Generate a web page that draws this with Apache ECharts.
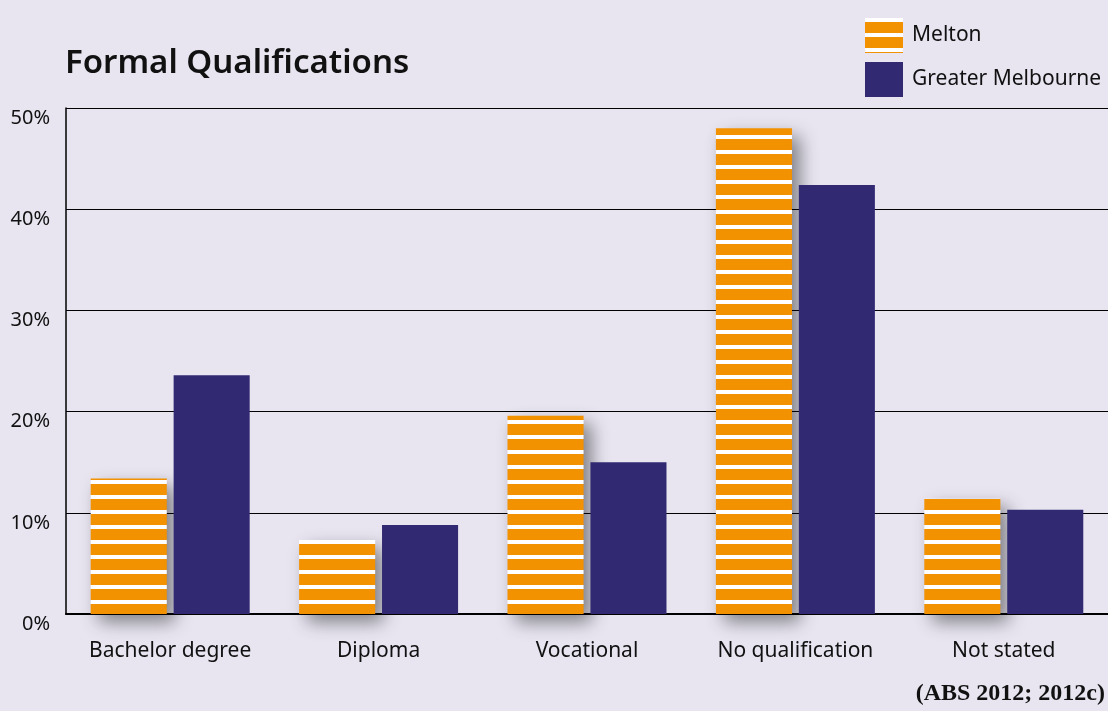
<!DOCTYPE html>
<html lang="en">
<head>
    <meta charset="UTF-8">
    <title>Formal Qualifications</title>
    <style>
        body { margin: 0; background: #e8e5f1; }
        #chart { width: 1108px; height: 711px; }
    </style>
</head>
<body>
    <div id="chart"></div>
    <script src="https://cdn.jsdelivr.net/npm/echarts@6/dist/echarts.min.js"></script>
    <script>
        const categories = ['Bachelor degree', 'Diploma', 'Vocational', 'No qualification', 'Not stated'];
        const melton = [13.4, 7.3, 19.6, 48.0, 11.4];
        const greaterMelbourne = [23.6, 8.8, 15.0, 42.4, 10.3];
        const yTicks = [0, 10, 20, 30, 40, 50];

        // orange with white horizontal stripes
        function stripes () {
            const c = document.createElement('canvas');
            c.width = 8;
            c.height = 15;
            const ctx = c.getContext('2d');
            ctx.fillStyle = '#ffffff';
            ctx.fillRect(0, 0, 8, 4);
            ctx.fillStyle = '#f39200';
            ctx.fillRect(0, 4, 8, 11);
            return c;
        }

        const chart = echarts.init(document.getElementById('chart'));
        const font = 'Noto Sans';

        chart.setOption({
            backgroundColor: '#e8e5f1',
            animation: false,
            title: {
                text: 'Formal Qualifications',
                left: 60,
                top: 42,
                textStyle: { fontFamily: font, fontSize: 33, fontWeight: 600, color: '#111' }
            },
            legend: {
                orient: 'vertical',
                left: 860,
                top: 13,
                icon: 'rect',
                itemWidth: 38,
                itemHeight: 35,
                itemGap: 9,
                textStyle: { fontFamily: font, fontSize: 21, color: '#111', padding: [0, 0, 0, 4] }
            },
            graphic: [{
                type: 'text',
                right: 3,
                top: 682,
                style: {
                    text: '(ABS 2012; 2012c)',
                    font: 'bold 24px "Liberation Serif", serif',
                    fill: '#111'
                }
            }],
            grid: { left: 66, right: 0, top: 108, bottom: 97 },
            xAxis: {
                type: 'category',
                data: categories,
                axisTick: { show: false },
                axisLine: { lineStyle: { color: '#000', width: 2 } },
                axisLabel: { interval: 0, fontFamily: font, fontSize: 21, color: '#111', margin: 27 }
            },
            yAxis: {
                type: 'value',
                min: yTicks[0],
                max: yTicks[yTicks.length - 1],
                interval: 10,
                axisLine: { show: true, lineStyle: { color: '#000', width: 1.5 } },
                axisTick: { show: false },
                splitLine: { lineStyle: { color: '#000', width: 1.2 } },
                axisLabel: {
                    fontFamily: font, fontSize: 20, color: '#111', margin: 16,
                    verticalAlign: 'top',
                    formatter: v => v + '%'
                }
            },
            series: [
                {
                    name: 'Melton',
                    type: 'bar',
                    data: melton,
                    barWidth: '36.5%',
                    barGap: '9%',
                    itemStyle: {
                        color: { image: stripes(), repeat: 'repeat' },
                        shadowColor: 'rgba(0,0,0,0.45)',
                        shadowBlur: 18,
                        shadowOffsetX: 8,
                        shadowOffsetY: 8
                    }
                },
                {
                    name: 'Greater Melbourne',
                    type: 'bar',
                    data: greaterMelbourne,
                    barWidth: '36.5%',
                    itemStyle: { color: '#312a72' }
                }
            ]
        });
    </script>
</body>
</html>
